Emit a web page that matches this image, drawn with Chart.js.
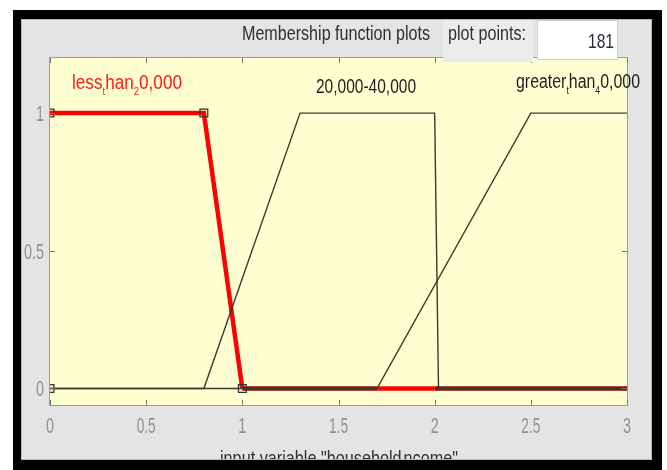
<!DOCTYPE html>
<html>
<head>
<meta charset="utf-8">
<script src="https://cdn.jsdelivr.net/npm/chart.js@4.4.1/dist/chart.umd.min.js"></script>
<style>
  body { margin: 0; background: #fff; }
  #wrap { width: 667px; height: 470px; }
</style>
</head>
<body>
<div id="wrap"><canvas id="mf"></canvas></div>
<script>
// membership functions of "household income"
const xTicks = [0, 0.5, 1, 1.5, 2, 2.5, 3];
const yTicks = [0, 0.5, 1];

const lessX = [0, 0.8, 1, 1.7, 2, 3];
const lessY = [1, 1, 0, 0, 0, 0];
const midX = [0, 0.8, 1.3, 2.0, 2.02, 3];
const midY = [0, 0, 1, 1, 0, 0];
const greatX = [0, 1.7, 2.5, 3];
const greatY = [0, 0, 1, 1];
// parameter handles of the selected function
const handleX = [0, 0.8, 0, 1];
const handleY = [1, 1, 0, 0];

const plotPoints = "181";

function pts(xs, ys) {
    return xs.map((x, i) => ({ x: x, y: ys[i] }));
}

const FONT = "'Liberation Sans', Arial, sans-serif";

// draw text squeezed horizontally to a given width
function squeeze(ctx, parts, x, y, size, width, align, color) {
    ctx.save();
    ctx.fillStyle = color;
    ctx.textBaseline = "alphabetic";
    ctx.textAlign = "left";
    let total = 0;
    parts.forEach(p => {
        ctx.font = (p.sub ? size * 0.55 : size) + "px " + FONT;
        total += ctx.measureText(p.t).width;
    });
    const sx = width / total;
    let start = x;
    if (align === "center") start = x - width / 2;
    if (align === "right") start = x - width;
    ctx.translate(start, y);
    ctx.scale(sx, 1);
    let cx = 0;
    parts.forEach(p => {
        ctx.font = (p.sub ? size * 0.55 : size) + "px " + FONT;
        ctx.fillText(p.t, cx, p.sub ? size * 0.3 : 0);
        cx += ctx.measureText(p.t).width;
    });
    ctx.restore();
}

const matlabLook = {
    id: "matlabLook",
    beforeDraw(chart) {
        const ctx = chart.ctx;
        const a = chart.chartArea;
        ctx.save();
        ctx.fillStyle = "#ffffff";
        ctx.fillRect(0, 0, chart.width, chart.height);
        ctx.fillStyle = "#000000";
        ctx.fillRect(13, 10, 649, 460);
        ctx.fillStyle = "#b8b8b8";
        ctx.fillRect(21, 19, 631, 441);
        ctx.fillStyle = "#e4e4e4";
        ctx.fillRect(22, 20, 629, 439);
        ctx.fillStyle = "#ffffd2";
        ctx.fillRect(a.left, a.top, a.right - a.left, a.bottom - a.top);
        ctx.restore();
    },
    afterDatasetsDraw(chart) {
        const ctx = chart.ctx;
        const a = chart.chartArea;
        const xs = chart.scales.x, ys = chart.scales.y;
        ctx.save();
        ctx.strokeStyle = "#9a9a9a";
        ctx.lineWidth = 1;
        ctx.strokeRect(a.left - 0.5, a.top - 0.5, a.right - a.left + 1, a.bottom - a.top + 1);
        ctx.strokeStyle = "#777";
        ctx.beginPath();
        xs.ticks.forEach(t => {
            const px = Math.round(xs.getPixelForValue(t.value)) + 0.5;
            ctx.moveTo(px, a.top); ctx.lineTo(px, a.top + 5);
            ctx.moveTo(px, a.bottom); ctx.lineTo(px, a.bottom - 5);
        });
        ys.ticks.forEach(t => {
            const py = Math.round(ys.getPixelForValue(t.value)) + 0.5;
            ctx.moveTo(a.left, py); ctx.lineTo(a.left + 5, py);
            ctx.moveTo(a.right, py); ctx.lineTo(a.right - 5, py);
        });
        ctx.stroke();
        ctx.restore();
    },
    afterDraw(chart) {
        const ctx = chart.ctx;
        const xs = chart.scales.x, ys = chart.scales.y;

        // plot points box
        ctx.save();
        ctx.fillStyle = "#ececec";
        ctx.fillRect(443, 20, 90, 42);
        ctx.fillStyle = "#ffffff";
        ctx.fillRect(537, 20, 81, 40);
        ctx.strokeStyle = "#d0d0d0";
        ctx.strokeRect(537.5, 20.5, 80, 39);
        ctx.restore();

        squeeze(ctx, [{ t: "Membership function plots" }], 336, 40, 21, 188, "center", "#2e2e36");
        squeeze(ctx, [{ t: "plot points:" }], 448, 40, 21, 78, "left", "#2e2e36");
        squeeze(ctx, [{ t: plotPoints }], 614, 48, 21, 26, "right", "#2a2a40");

        // tick labels from the scales
        xs.ticks.forEach(t => {
            const s = String(t.value);
            squeeze(ctx, [{ t: s }], xs.getPixelForValue(t.value), 433, 22, s.length > 1 ? 19 : 8, "center", "#8c9098");
        });
        ys.ticks.forEach(t => {
            const s = String(t.value);
            squeeze(ctx, [{ t: s }], 44, ys.getPixelForValue(t.value) + 8, 22, s.length > 1 ? 20 : 8, "right", "#8c9098");
        });

        // membership function names
        squeeze(ctx, [{ t: "less" }, { t: "t", sub: true }, { t: "han" }, { t: "2", sub: true }, { t: "0,000" }],
            127, 89, 20, 110, "center", "#ff1a1a");
        squeeze(ctx, [{ t: "20,000-40,000" }], 366, 93, 20, 100, "center", "#1e1e1e");
        squeeze(ctx, [{ t: "greater" }, { t: "t", sub: true }, { t: "han" }, { t: "4", sub: true }, { t: "0,000" }],
            578, 88, 20, 124, "center", "#1e1e1e");

        // axis title, cut by the frame
        ctx.save();
        ctx.beginPath();
        ctx.rect(22, 20, 629, 439);
        ctx.clip();
        squeeze(ctx, [{ t: "input variable \"household" }, { t: "i", sub: true }, { t: "ncome\"" }],
            339, 465, 21, 238, "center", "#2e2e36");
        ctx.restore();
    }
};

new Chart(document.getElementById("mf"), {
    type: "scatter",
    data: {
        datasets: [
            {
                label: "20,000-40,000",
                data: pts(midX, midY),
                showLine: true,
                borderColor: "#3a3a2e",
                borderWidth: 1.4,
                pointRadius: 0,
                order: 1
            },
            {
                label: "greater than 40,000",
                data: pts(greatX, greatY),
                showLine: true,
                borderColor: "#3a3a2e",
                borderWidth: 1.4,
                pointRadius: 0,
                order: 2
            },
            {
                label: "less than 20,000",
                data: pts(lessX, lessY),
                showLine: true,
                borderColor: "#ff0000",
                borderWidth: 4.5,
                pointRadius: 0,
                order: 3,
                segment: {
                    borderColor: c => {
                        const p = c.p0.parsed, q = c.p1.parsed;
                        if (p.y === 0 && q.y === 0 && !(p.x >= 1.7 && q.x <= 2.0)) return "#9c0606";
                        return undefined;
                    }
                }
            },
            {
                label: "handles",
                data: pts(handleX, handleY),
                showLine: false,
                pointStyle: "rect",
                pointRadius: 5.5,
                pointBackgroundColor: "rgba(0,0,0,0)",
                pointBorderColor: "#333",
                pointBorderWidth: 1.3,
                clip: 0,
                order: 0
            }
        ]
    },
    options: {
        responsive: true,
        maintainAspectRatio: false,
        animation: false,
        layout: { padding: { top: 58, right: 40, left: 0, bottom: 0 } },
        plugins: {
            legend: { display: false },
            tooltip: { enabled: false }
        },
        scales: {
            x: {
                type: "linear",
                min: 0,
                max: 3,
                grid: { display: false, drawTicks: false },
                border: { display: false },
                ticks: { display: false },
                afterBuildTicks: s => { s.ticks = xTicks.map(v => ({ value: v })); },
                afterFit: s => { s.height = 65; }
            },
            y: {
                type: "linear",
                min: -0.06,
                max: 1.2,
                grid: { display: false, drawTicks: false },
                border: { display: false },
                ticks: { display: false },
                afterBuildTicks: s => { s.ticks = yTicks.map(v => ({ value: v })); },
                afterFit: s => { s.width = 50; }
            }
        }
    },
    plugins: [matlabLook]
});
</script>
</body>
</html>
